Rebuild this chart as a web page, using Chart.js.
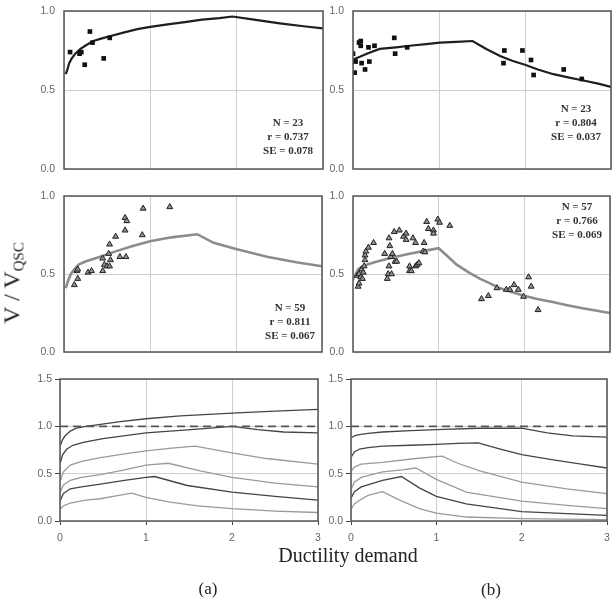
<!DOCTYPE html>
<html>
<head>
<meta charset="utf-8">
<script src="https://cdn.jsdelivr.net/npm/chart.js@4.4.1/dist/chart.umd.min.js"></script>
<style>
  body { margin: 0; width: 613px; height: 603px; background: #fff; position: relative; overflow: hidden; font-family: "Liberation Serif", "Times New Roman", serif; }
  canvas { position: absolute; }
  .lbl { position: absolute; color: #222; white-space: nowrap; transform: translate(-50%, -50%); }
  .lbl sub { font-size: 15px; vertical-align: -4px; }
</style>
</head>
<body>
<canvas id="cTL"></canvas>
<canvas id="cTR"></canvas>
<canvas id="cML"></canvas>
<canvas id="cMR"></canvas>
<canvas id="cBL"></canvas>
<canvas id="cBR"></canvas>
<div class="lbl" style="left:13px; top:283px; font-size:24px; transform:translate(-50%,-50%) rotate(-90deg);">V / V<sub>QSC</sub></div>
<div class="lbl" style="left:348px; top:555px; font-size:20px;">Ductility demand</div>
<div class="lbl" style="left:208px; top:589px; font-size:17px;">(a)</div>
<div class="lbl" style="left:491px; top:590px; font-size:17px;">(b)</div>
<script>
// ---- (a) top: model curve + test points (squares)
var fitTLx = [0.02, 0.04, 0.06, 0.09, 0.13, 0.19, 0.26, 0.34, 0.43, 0.53, 0.7, 0.85, 1.0, 1.2, 1.4, 1.6, 1.8, 1.95, 2.2, 2.5, 2.8, 3.0];
var fitTLy = [0.60, 0.63, 0.67, 0.70, 0.73, 0.76, 0.785, 0.81, 0.825, 0.84, 0.865, 0.885, 0.90, 0.915, 0.93, 0.945, 0.955, 0.965, 0.945, 0.922, 0.902, 0.89];
var ptsTLx = [0.07, 0.18, 0.20, 0.24, 0.30, 0.33, 0.46, 0.53];
var ptsTLy = [0.74, 0.73, 0.74, 0.66, 0.87, 0.80, 0.70, 0.83];
var statsTL = ['N = 23', 'r = 0.737', 'SE = 0.078'];

// ---- (b) top
var fitTRx = [0, 0.03, 0.08, 0.16, 0.31, 0.5, 0.66, 0.85, 1.01, 1.2, 1.39, 1.55, 1.71, 1.85, 2.0, 2.15, 2.33, 2.5, 2.68, 2.85, 3.0];
var fitTRy = [0.69, 0.70, 0.71, 0.73, 0.76, 0.77, 0.78, 0.79, 0.80, 0.805, 0.81, 0.76, 0.715, 0.685, 0.66, 0.63, 0.60, 0.58, 0.56, 0.54, 0.52];
var ptsTRx = [0.00, 0.02, 0.03, 0.07, 0.09, 0.09, 0.10, 0.14, 0.18, 0.19, 0.25, 0.48, 0.49, 0.63, 1.75, 1.76, 1.97, 2.07, 2.10, 2.45, 2.66];
var ptsTRy = [0.73, 0.61, 0.68, 0.80, 0.81, 0.78, 0.67, 0.63, 0.77, 0.68, 0.78, 0.83, 0.73, 0.77, 0.67, 0.75, 0.75, 0.69, 0.595, 0.63, 0.57];
var statsTR = ['N = 23', 'r = 0.804', 'SE = 0.037'];

// ---- (a) middle: model curve + test points (triangles)
var fitMLx = [0.02, 0.05, 0.08, 0.12, 0.17, 0.25, 0.42, 0.6, 0.8, 1.0, 1.25, 1.55, 1.74, 2.0, 2.36, 2.7, 3.0];
var fitMLy = [0.41, 0.46, 0.50, 0.53, 0.56, 0.58, 0.61, 0.645, 0.68, 0.71, 0.735, 0.755, 0.70, 0.66, 0.61, 0.575, 0.55];
var ptsMLx = [0.12, 0.16, 0.15, 0.16, 0.28, 0.32, 0.45, 0.45, 0.47, 0.50, 0.52, 0.53, 0.53, 0.54, 0.60, 0.65, 0.71, 0.71, 0.73, 0.72, 0.91, 0.92, 1.23];
var ptsMLy = [0.43, 0.47, 0.52, 0.53, 0.51, 0.52, 0.52, 0.60, 0.56, 0.55, 0.63, 0.69, 0.55, 0.59, 0.74, 0.61, 0.78, 0.86, 0.84, 0.61, 0.75, 0.92, 0.93];
var statsML = ['N = 59', 'r = 0.811', 'SE = 0.067'];

// ---- (b) middle
var fitMRx = [0, 0.03, 0.06, 0.1, 0.16, 0.25, 0.35, 0.5, 0.66, 0.85, 1.0, 1.1, 1.21, 1.35, 1.48, 1.6, 1.71, 1.85, 2.0, 2.15, 2.33, 2.5, 2.68, 2.85, 3.0];
var fitMRy = [0.465, 0.50, 0.53, 0.545, 0.56, 0.575, 0.59, 0.61, 0.63, 0.65, 0.665, 0.615, 0.56, 0.51, 0.47, 0.44, 0.41, 0.385, 0.36, 0.34, 0.32, 0.30, 0.28, 0.265, 0.25];
var ptsMRx = [0.06, 0.07, 0.05, 0.07, 0.09, 0.10, 0.11, 0.12, 0.13, 0.14, 0.14, 0.15, 0.18, 0.24, 0.37, 0.40, 0.41, 0.42, 0.42, 0.43, 0.44, 0.45, 0.46, 0.48, 0.49, 0.51, 0.54, 0.59, 0.62, 0.62, 0.66, 0.66, 0.68, 0.70, 0.73, 0.73, 0.75, 0.77, 0.82, 0.83, 0.84, 0.86, 0.88, 0.94, 0.94, 0.99, 1.01, 1.13, 1.50, 1.58, 1.68, 1.79, 1.83, 1.88, 1.93, 1.99, 2.05, 2.08, 2.16];
var ptsMRy = [0.42, 0.44, 0.49, 0.50, 0.48, 0.53, 0.47, 0.51, 0.55, 0.62, 0.59, 0.645, 0.67, 0.70, 0.63, 0.47, 0.50, 0.55, 0.73, 0.68, 0.61, 0.50, 0.63, 0.77, 0.58, 0.58, 0.78, 0.74, 0.76, 0.72, 0.52, 0.55, 0.52, 0.73, 0.70, 0.55, 0.56, 0.57, 0.645, 0.70, 0.64, 0.835, 0.79, 0.78, 0.76, 0.85, 0.83, 0.81, 0.34, 0.36, 0.41, 0.40, 0.40, 0.43, 0.40, 0.355, 0.48, 0.42, 0.27];
var statsMR = ['N = 57', 'r = 0.766', 'SE = 0.069'];

// ---- (a) bottom: family of model curves
var famA1x = [0.005, 0.03, 0.06, 0.12, 0.19, 0.3, 0.47, 0.7, 1.0, 1.4, 2.0, 2.5, 3.0];
var famA1y = [0.80, 0.86, 0.90, 0.95, 0.98, 1.0, 1.02, 1.05, 1.08, 1.11, 1.14, 1.16, 1.18];
var famA2x = [0.005, 0.03, 0.08, 0.15, 0.27, 0.5, 1.0, 1.6, 2.0, 2.3, 2.6, 3.0];
var famA2y = [0.62, 0.70, 0.76, 0.80, 0.83, 0.87, 0.93, 0.97, 1.0, 0.965, 0.94, 0.93];
var famA3x = [0.005, 0.04, 0.12, 0.25, 0.47, 0.75, 1.0, 1.3, 1.57, 2.0, 2.4, 3.0];
var famA3y = [0.43, 0.52, 0.59, 0.63, 0.67, 0.71, 0.74, 0.77, 0.79, 0.72, 0.66, 0.60];
var famA4x = [0.005, 0.04, 0.12, 0.25, 0.47, 0.75, 1.0, 1.26, 1.63, 2.0, 2.5, 3.0];
var famA4y = [0.31, 0.38, 0.43, 0.46, 0.49, 0.54, 0.59, 0.61, 0.53, 0.46, 0.40, 0.36];
var famA5x = [0.005, 0.04, 0.12, 0.25, 0.47, 0.75, 1.0, 1.1, 1.48, 2.0, 2.5, 3.0];
var famA5y = [0.22, 0.29, 0.34, 0.36, 0.39, 0.43, 0.46, 0.47, 0.375, 0.305, 0.26, 0.22];
var famA6x = [0.005, 0.04, 0.12, 0.3, 0.47, 0.65, 0.83, 1.0, 1.28, 1.6, 2.0, 2.5, 3.0];
var famA6y = [0.13, 0.16, 0.19, 0.22, 0.235, 0.265, 0.295, 0.25, 0.20, 0.16, 0.13, 0.105, 0.09];

// ---- (b) bottom
var famB1x = [0.005, 0.04, 0.08, 0.2, 0.37, 0.7, 1.0, 1.5, 2.0, 2.3, 2.6, 3.0];
var famB1y = [0.88, 0.90, 0.91, 0.925, 0.94, 0.955, 0.965, 0.98, 0.98, 0.93, 0.90, 0.885];
var famB2x = [0.005, 0.04, 0.1, 0.2, 0.37, 0.7, 1.0, 1.25, 1.49, 1.75, 2.0, 2.37, 2.7, 3.0];
var famB2y = [0.68, 0.73, 0.76, 0.775, 0.79, 0.80, 0.81, 0.82, 0.825, 0.76, 0.70, 0.645, 0.60, 0.56];
var famB3x = [0.005, 0.04, 0.12, 0.37, 0.76, 1.07, 1.25, 1.51, 2.0, 2.53, 3.0];
var famB3y = [0.53, 0.57, 0.60, 0.62, 0.66, 0.685, 0.61, 0.53, 0.41, 0.34, 0.29];
var famB4x = [0.005, 0.04, 0.12, 0.37, 0.6, 0.76, 1.0, 1.35, 2.0, 2.53, 3.0];
var famB4y = [0.34, 0.41, 0.46, 0.52, 0.54, 0.56, 0.44, 0.305, 0.21, 0.165, 0.13];
var famB5x = [0.005, 0.04, 0.12, 0.37, 0.59, 0.8, 1.0, 1.35, 2.0, 2.53, 3.0];
var famB5y = [0.25, 0.31, 0.36, 0.43, 0.47, 0.35, 0.26, 0.18, 0.10, 0.077, 0.06];
var famB6x = [0.005, 0.04, 0.1, 0.2, 0.37, 0.57, 0.8, 1.0, 1.35, 2.0, 3.0];
var famB6y = [0.13, 0.18, 0.22, 0.27, 0.31, 0.22, 0.13, 0.084, 0.042, 0.025, 0.014];

var unityX = [0, 3];
var unityY = [1.0, 1.0];

var DARK = '#444', LIGHT = '#9a9a9a', GRID = '#cfcfcf', FRAME = '#555';

function pairs(xs, ys) {
    return xs.map(function(x, i) { return { x: x, y: ys[i] }; });
}

function curve(xs, ys, color, width, dash) {
    return {
        data: pairs(xs, ys), showLine: true, pointRadius: 0,
        borderColor: color, borderWidth: width, borderDash: dash || [],
        tension: 0
    };
}

function marks(xs, ys, style) {
    if (style === 'rect') {
        return { data: pairs(xs, ys), pointStyle: 'rect', pointRadius: 3.3,
                 backgroundColor: '#111', borderColor: '#111', borderWidth: 0 };
    }
    return { data: pairs(xs, ys), pointStyle: 'triangle', pointRadius: 3.4,
             backgroundColor: '#8f8f8f', borderColor: '#222', borderWidth: 1 };
}

// box around the plot area + the N / r / SE text block
var framePlugin = {
    id: 'frame',
    afterDatasetsDraw: function(chart) {
        var a = chart.chartArea, c = chart.ctx;
        c.save();
        c.strokeStyle = FRAME;
        c.lineWidth = 1.5;
        c.strokeRect(a.left, a.top, a.right - a.left, a.bottom - a.top);
        var st = chart.options.plugins.frame;
        if (st && st.lines) {
            c.fillStyle = '#333';
            c.font = 'bold 11px "Liberation Serif", serif';
            c.textAlign = 'center';
            c.textBaseline = 'middle';
            st.lines.forEach(function(t, i) {
                c.fillText(t, a.left + st.cx, a.top + st.cy + i * 14);
            });
        }
        c.restore();
    }
};

function makePanel(id, box, yMax, bottomRow, datasets, stats) {
    var AX = 40, PADT = 8, XB = bottomRow ? 28 : 4;
    var cv = document.getElementById(id);
    cv.width = box.r - box.l + AX + 4;
    cv.height = box.b - box.t + PADT + XB;
    cv.style.left = (box.l - AX) + 'px';
    cv.style.top = (box.t - PADT) + 'px';
    new Chart(cv.getContext('2d'), {
        type: 'scatter',
        data: { datasets: datasets },
        options: {
            responsive: false,
            animation: false,
            layout: { padding: { top: PADT, right: 4, left: 0, bottom: 0 } },
            plugins: {
                legend: { display: false },
                tooltip: { enabled: false },
                frame: stats || {}
            },
            scales: {
                x: {
                    type: 'linear', min: 0, max: 3,
                    afterFit: function(s) { s.height = XB; s.paddingLeft = 0; s.paddingRight = 0; },
                    border: { display: false },
                    grid: { color: GRID, drawTicks: bottomRow, tickLength: 4, tickColor: '#444' },
                    ticks: {
                        display: bottomRow, stepSize: 1, padding: 7, color: '#666',
                        font: { family: '"Liberation Sans", sans-serif', size: 10.5 }
                    }
                },
                y: {
                    min: 0, max: yMax,
                    afterFit: function(s) { s.width = AX; s.paddingTop = 0; s.paddingBottom = 0; },
                    border: { display: false },
                    grid: { color: GRID, drawTicks: bottomRow, tickLength: 5, tickColor: '#444' },
                    ticks: {
                        stepSize: 0.5, padding: bottomRow ? 3 : 9, color: '#666',
                        font: { family: '"Liberation Sans", sans-serif', size: 10.5 },
                        callback: function(v) { return v.toFixed(1); }
                    }
                }
            }
        },
        plugins: [framePlugin]
    });
}

makePanel('cTL', { l: 64, t: 11, r: 323, b: 169 }, 1.0, false, [
    marks(ptsTLx, ptsTLy, 'rect'),
    curve(fitTLx, fitTLy, '#1e1e1e', 2.2)
], { lines: statsTL, cx: 224, cy: 112 });

makePanel('cTR', { l: 353, t: 11, r: 611, b: 169 }, 1.0, false, [
    marks(ptsTRx, ptsTRy, 'rect'),
    curve(fitTRx, fitTRy, '#1e1e1e', 2.2)
], { lines: statsTR, cx: 223, cy: 98 });

makePanel('cML', { l: 64, t: 196, r: 323, b: 353 }, 1.0, false, [
    marks(ptsMLx, ptsMLy, 'tri'),
    curve(fitMLx, fitMLy, '#8c8c8c', 2.6)
], { lines: statsML, cx: 226, cy: 112 });

makePanel('cMR', { l: 353, t: 196, r: 611, b: 353 }, 1.0, false, [
    marks(ptsMRx, ptsMRy, 'tri'),
    curve(fitMRx, fitMRy, '#8c8c8c', 2.6)
], { lines: statsMR, cx: 224, cy: 11 });

makePanel('cBL', { l: 60, t: 379, r: 318, b: 521 }, 1.5, true, [
    curve(unityX, unityY, '#555', 1.6, [8, 5]),
    curve(famA1x, famA1y, DARK, 1.3),
    curve(famA2x, famA2y, DARK, 1.3),
    curve(famA3x, famA3y, LIGHT, 1.3),
    curve(famA4x, famA4y, LIGHT, 1.3),
    curve(famA5x, famA5y, DARK, 1.3),
    curve(famA6x, famA6y, LIGHT, 1.3)
]);

makePanel('cBR', { l: 351, t: 379, r: 607, b: 521 }, 1.5, true, [
    curve(unityX, unityY, '#555', 1.6, [8, 5]),
    curve(famB1x, famB1y, DARK, 1.3),
    curve(famB2x, famB2y, DARK, 1.3),
    curve(famB3x, famB3y, LIGHT, 1.3),
    curve(famB4x, famB4y, LIGHT, 1.3),
    curve(famB5x, famB5y, DARK, 1.3),
    curve(famB6x, famB6y, LIGHT, 1.3)
]);
</script>
</body>
</html>
